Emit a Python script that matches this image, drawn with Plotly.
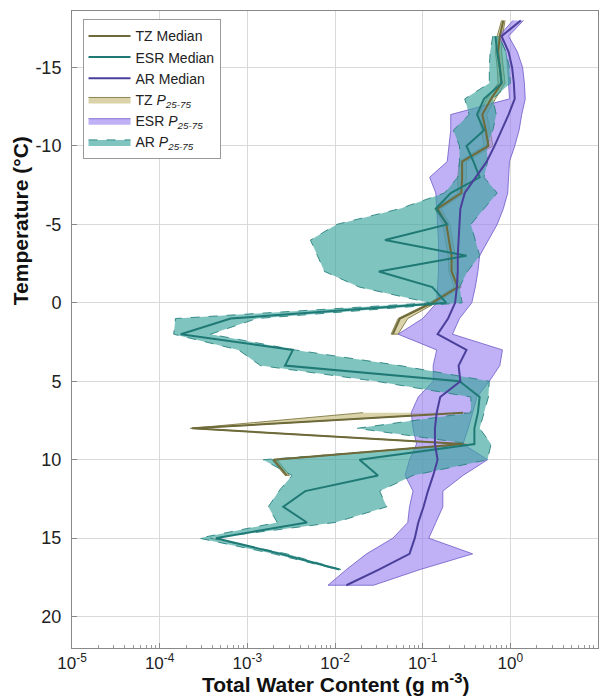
import numpy as np
import plotly.graph_objects as go

# Temperature levels (deg C)
temps = list(range(-18, 19))

# log10 of Total Water Content (g m^-3); None = no data
tz_median_log = [-0.08, -0.12, -0.14, -0.12, -0.10, -0.22, -0.32, -0.28, -0.25, -0.55,
                 -0.55, -0.56, -0.83, -0.73, -0.70, -0.67, -0.67, -0.60, -0.89, -1.26,
                 -1.34, None, None, None, None, -0.54, -3.63, -0.54, -2.70, -2.55,
                 None, None, None, None, None, None, None]
tz_p25_log = [-0.10, -0.15, -0.17, -0.15, -0.14, -0.27, -0.36, -0.33, -0.30, -0.58,
              -0.60, -0.60, -0.86, -0.77, -0.74, -0.71, -0.70, -0.64, -0.92, -1.28,
              -1.36, None, None, None, None, -1.68, -3.65, -0.57, -2.72, -2.57,
              None, None, None, None, None, None, None]
tz_p75_log = [-0.06, -0.09, -0.10, -0.08, -0.06, -0.17, -0.27, -0.23, -0.20, -0.50,
              -0.50, -0.52, -0.79, -0.69, -0.66, -0.63, -0.63, -0.56, -0.85, -1.17,
              -1.28, None, None, None, None, -0.50, -3.60, -0.50, -2.66, -2.52,
              None, None, None, None, None, None, None]

esr_median_log = [None, -0.17, -0.15, -0.12, -0.10, -0.30, -0.38, -0.30, -0.50, -0.42,
                  -0.35, -0.68, -0.85, -0.72, -1.43, -0.50, -1.50, -0.89, -0.73, -3.19,
                  -3.76, -2.48, -2.57, -0.58, -0.35, -0.37, -0.41, -0.41, -1.72, -1.51,
                  -2.34, -2.59, -2.32, -3.36, -2.62, -1.95, None]

ar_median_log = [0.12, -0.10, -0.02, 0.02, 0.04, 0.05, -0.02, -0.10, -0.18, -0.27,
                 -0.39, -0.52, -0.57, -0.58, -0.59, -0.60, -0.60, -0.61, -0.63, -0.71,
                 -0.83, -0.50, -0.59, -0.57, -0.80, -0.84, -0.86, -0.86, -0.83, -0.88,
                 -0.94, -0.99, -1.05, -1.09, -1.15, -1.50, -1.87]

# purple band (labelled ESR P25-75)
esr_p25_log = [0.03, -0.13, -0.05, -0.03, -0.02, -0.01, -0.68, -0.68, -0.70, -0.72,
               -0.92, -0.85, -0.84, -0.83, -0.82, -0.82, -0.82, -0.83, -0.84, -1.00,
               -1.28, -0.84, -0.88, -0.88, -1.05, -1.13, -1.11, -1.07, -1.15, -1.20,
               -1.11, -1.15, -1.17, -1.34, -1.64, -1.87, -2.08]
esr_p75_log = [0.15, -0.02, 0.08, 0.14, 0.16, 0.17, 0.13, 0.10, 0.05, -0.01,
               -0.02, -0.03, -0.08, -0.15, -0.25, -0.35, -0.37, -0.40, -0.44, -0.58,
               -0.66, -0.09, -0.12, -0.24, -0.38, -0.43, -0.48, -0.54, -0.26, -0.54,
               -0.77, -0.77, -0.85, -0.93, -0.43, -1.03, -1.56]

# teal band (labelled AR P25-75)
ar_p25_log = [None, -0.20, -0.23, -0.24, -0.24, -0.52, -0.47, -0.65, -0.58, -0.58,
              -0.60, -0.75, -1.26, -1.98, -2.28, -2.20, -2.12, -1.72, -0.92, -3.82,
              -3.84, -3.10, -2.85, -1.53, -0.45, -0.45, -1.75, -0.45, -2.82, -2.49,
              -2.64, -2.76, -2.66, -3.55, -2.70, -1.97, None]
ar_p75_log = [None, -0.13, -0.05, -0.01, 0.00, -0.20, -0.16, -0.20, -0.27, -0.26,
              -0.30, -0.15, -0.30, -0.45, -0.40, -0.35, -0.49, -0.58, -0.55, -2.89,
              -3.42, -2.46, -1.26, -0.24, -0.25, -0.30, -0.35, -0.22, -0.26, -1.11,
              -1.49, -1.41, -2.00, -3.42, -2.55, -1.93, None]

x_tick_exps = [-5, -4, -3, -2, -1, 0, 1]
y_ticks = [-15, -10, -5, 0, 5, 10, 15, 20]
y_tick_text = ["-15", "-10", "-5", "0", "5", "10", "15", "20"]


def to_val(logs):
    return [None if v is None else 10 ** v for v in logs]


def band(p25, p75, t):
    xs, ys = [], []
    seg = []
    for i in range(len(t)):
        if p25[i] is None:
            if seg:
                xs += [p25[j] for j in seg] + [p75[j] for j in seg[::-1]] + [None]
                ys += [t[j] for j in seg] + [t[j] for j in seg[::-1]] + [None]
                seg = []
        else:
            seg.append(i)
    if seg:
        xs += [p25[j] for j in seg] + [p75[j] for j in seg[::-1]]
        ys += [t[j] for j in seg] + [t[j] for j in seg[::-1]]
    return xs, ys


FONT = "Liberation Sans, Arial, sans-serif"

fig = go.Figure()

bx, by = band(to_val(tz_p25_log), to_val(tz_p75_log), temps)
fig.add_trace(go.Scatter(x=bx, y=by, mode="lines", fill="toself",
                         fillcolor="rgba(205,196,140,0.75)",
                         line=dict(color="rgba(130,122,70,0.9)", width=1),
                         name="TZ <i>P</i><sub><i>25-75</i></sub>", legendrank=4))
bx, by = band(to_val(esr_p25_log), to_val(esr_p75_log), temps)
fig.add_trace(go.Scatter(x=bx, y=by, mode="lines", fill="toself",
                         fillcolor="rgba(150,125,240,0.6)",
                         line=dict(color="rgba(110,90,200,0.8)", width=1),
                         name="ESR <i>P</i><sub><i>25-75</i></sub>", legendrank=5))
bx, by = band(to_val(ar_p25_log), to_val(ar_p75_log), temps)
fig.add_trace(go.Scatter(x=bx, y=by, mode="lines", fill="toself",
                         fillcolor="rgba(60,165,158,0.65)",
                         line=dict(color="rgba(40,130,125,0.9)", width=1, dash="dash"),
                         name="AR <i>P</i><sub><i>25-75</i></sub>", legendrank=6))

fig.add_trace(go.Scatter(x=to_val(tz_median_log), y=temps, mode="lines",
                         line=dict(color="#6e6a3a", width=2),
                         name="TZ Median", legendrank=1))
fig.add_trace(go.Scatter(x=to_val(esr_median_log), y=temps, mode="lines",
                         line=dict(color="#1f7a76", width=2),
                         name="ESR Median", legendrank=2))
fig.add_trace(go.Scatter(x=to_val(ar_median_log), y=temps, mode="lines",
                         line=dict(color="#4a3f9a", width=2),
                         name="AR Median", legendrank=3))

minor_vals = [m * 10 ** e for e in range(-5, 1) for m in range(2, 10)]

fig.update_layout(
    width=609, height=699,
    margin=dict(l=72, r=11, t=11, b=51),
    paper_bgcolor="white", plot_bgcolor="white",
    font=dict(family=FONT, color="#222", size=16),
    showlegend=True,
    legend=dict(x=0.02, y=0.987, xanchor="left", yanchor="top",
                bgcolor="white", bordercolor="#9a9a9a", borderwidth=1,
                font=dict(size=14, family=FONT, color="#222"),
                itemwidth=42, traceorder="normal"),
    xaxis=dict(type="log", range=[-5, 1],
               tickvals=[10 ** e for e in x_tick_exps],
               ticktext=[f"10<sup>{e}</sup>" for e in x_tick_exps],
               ticks="inside", ticklen=5, tickcolor="#888",
               showgrid=True, gridcolor="#d9d9d9", gridwidth=1,
               showline=True, linecolor="#888", linewidth=1, mirror=True,
               zeroline=False, tickfont=dict(size=17, family=FONT, color="#222"),
               minor=dict(tickvals=minor_vals, ticks="inside", ticklen=3,
                          tickcolor="#999", showgrid=False)),
    yaxis=dict(range=[22.0, -18.6], tickvals=y_ticks, ticktext=y_tick_text,
               ticks="inside", ticklen=5, tickcolor="#888",
               showgrid=True, gridcolor="#d9d9d9", gridwidth=1,
               showline=True, linecolor="#888", linewidth=1, mirror=True,
               zeroline=False, tickfont=dict(size=18, family=FONT, color="#222"),
               ticklabelstandoff=6),
    annotations=[
        dict(text="<b>Total Water Content (g m<sup>-3</sup>)</b>", xref="paper", yref="paper",
             x=0.5, y=0, yshift=-20, xanchor="center", yanchor="top", showarrow=False,
             font=dict(size=21, family=FONT, color="#111")),
        dict(text="<b>Temperature (°C)</b>", xref="paper", yref="paper",
             x=0, xshift=-52, y=0.67, xanchor="center", yanchor="middle", textangle=-90,
             showarrow=False, font=dict(size=21, family=FONT, color="#111")),
    ],
)

fig.write_html("out.html")
